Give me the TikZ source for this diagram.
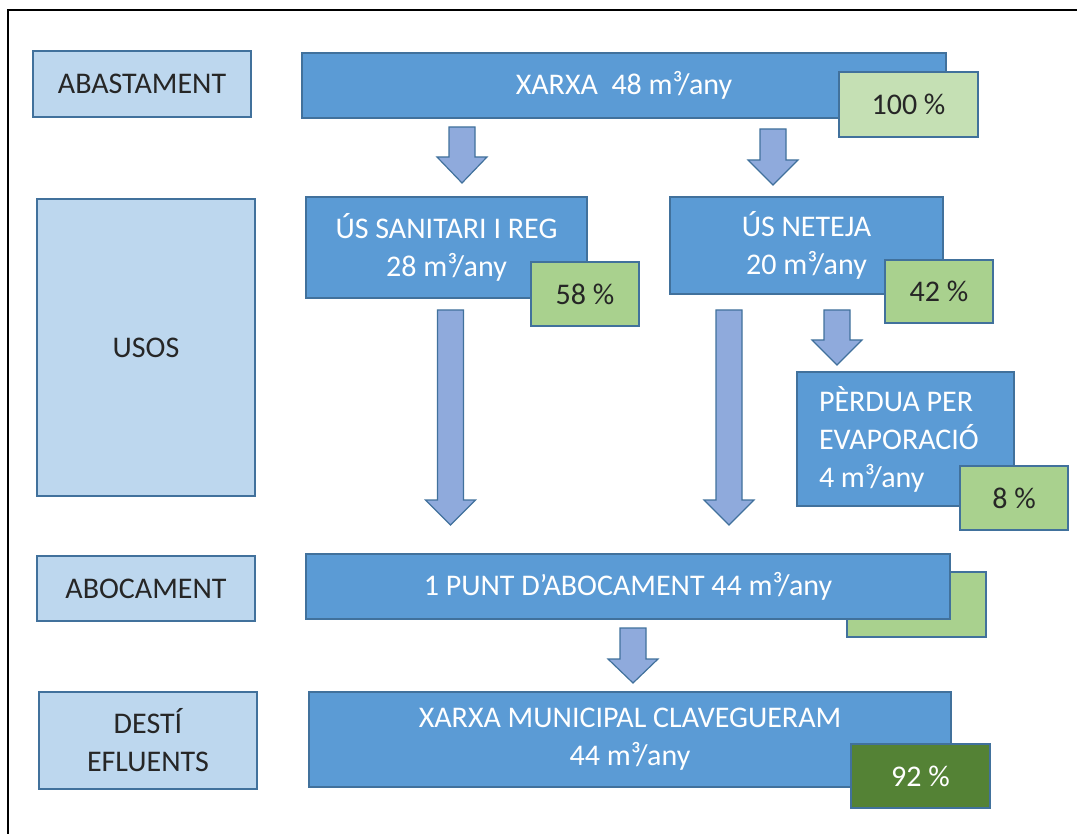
\documentclass[tikz,border=0pt]{standalone}
\usepackage{fontspec}
\setmainfont{Carlito}
\usetikzlibrary{positioning}

\definecolor{blau}{HTML}{5B9BD5}
\definecolor{clar}{HTML}{BDD7EE}
\definecolor{vora}{HTML}{41719C}
\definecolor{verdclar}{HTML}{C5E0B4}
\definecolor{verd}{HTML}{A9D18E}
\definecolor{verdfosc}{HTML}{548235}
\definecolor{fletxacol}{HTML}{8FAADC}
\definecolor{negre}{HTML}{262626}

\newcommand{\fletxa}[4]{\draw[fletxa] (#1-13,#2) -- (#1+13,#2) -- (#1+13,#3) -- (#1+25,#3) -- (#1,#4) -- (#1-25,#3) -- (#1-13,#3) -- cycle;}

\begin{document}
\begin{tikzpicture}[x=1pt, y=-1pt, line width=1.2pt, font=\fontsize{30}{38}\selectfont]
		\tikzstyle{nivell}=[draw=vora, fill=clar, text=negre, inner sep=0pt, align=center]
		\tikzstyle{flux}=[draw=vora, fill=blau, text=white, inner sep=0pt, align=center]
		\tikzstyle{percent}=[draw=vora, fill=verd, text=negre, inner sep=0pt]
		\tikzstyle{fletxa}=[draw=vora, fill=fletxacol, line join=miter]
		
		\useasboundingbox (0,0) rectangle (1077,834);
		\draw[line width=2pt, black] (8,834) -- (8,10) -- (1077,10);
		
		\node[nivell, minimum width=218pt, minimum height=66pt] at (142, 84) (abast) {ABASTAMENT};
		\node[nivell, minimum width=218pt, minimum height=297pt] at (146, 347.5) (usos) {USOS};
		\node[nivell, minimum width=218pt, minimum height=65pt] at (146, 588.5) (aboc) {ABOCAMENT};
		\node[nivell, minimum width=218pt, minimum height=97pt] at (148, 740.5) (desti) {DESTÍ\\EFLUENTS};
		
		\node[flux, minimum width=644pt, minimum height=65pt] at (624, 85.5) (xarxa) {XARXA~~48 m³/any};
		\node[percent, fill=verdclar, minimum width=139pt, minimum height=65pt] at (908.5, 104.5) (p100) {100 \%};
		
		\node[flux, minimum width=281pt, minimum height=101pt] at (446.5, 247.5) (sanit) {ÚS SANITARI I REG\\28 m³/any};
		\node[percent, minimum width=108pt, minimum height=64pt] at (585, 294) (p58) {58 \%};
		\node[flux, minimum width=273pt, minimum height=97pt] at (806.5, 245.5) (neteja) {ÚS NETEJA\\20 m³/any};
		\node[percent, minimum width=108pt, minimum height=63pt] at (939, 291.5) (p42) {42 \%};
		
		\node[flux, align=flush left, text width=173pt, inner xsep=22pt, minimum height=134pt] at (905.5, 439) (perdua) {PÈRDUA PER\\EVAPORACIÓ\\4 m³/any};
		\node[percent, minimum width=108pt, minimum height=64pt] at (1014, 498) (p8) {8 \%};
		
		\node[percent, minimum width=139pt, minimum height=65pt] at (916.5, 604.5) (pbuit) {};
		\node[flux, minimum width=644pt, minimum height=65pt] at (628, 586.5) (punt) {1 PUNT D’ABOCAMENT 44 m³/any};
		
		\node[flux, minimum width=642pt, minimum height=95pt] at (630, 739.5) (clav) {XARXA MUNICIPAL CLAVEGUERAM\\44 m³/any};
		\node[percent, fill=verdfosc, text=white, minimum width=139pt, minimum height=64pt] at (920.5, 776) (p92) {92 \%};
		
		\fletxa{462}{127}{157}{183}
		\fletxa{773}{129}{160}{185}
		\fletxa{450.5}{310}{500}{525}
		\fletxa{729}{310}{500}{525}
		\fletxa{837}{310}{340}{365}
		\fletxa{633}{628}{659}{683}
	\end{tikzpicture}
\end{document}
